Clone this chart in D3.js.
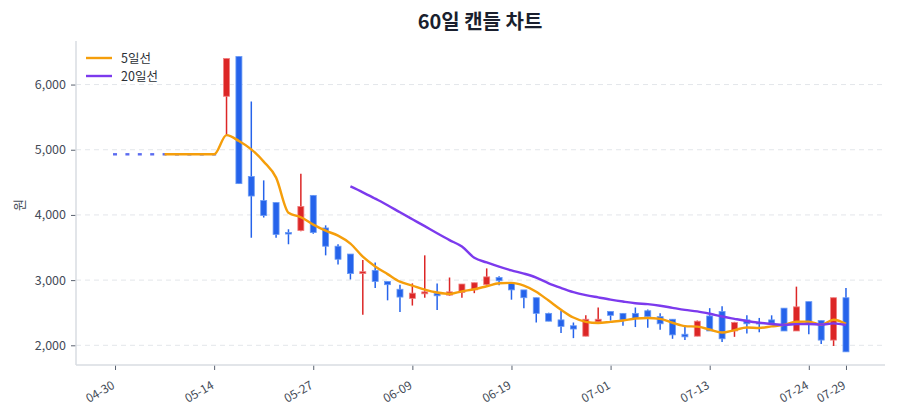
<!DOCTYPE html>
<html>
<head>
<meta charset="utf-8">
<script src="https://cdn.jsdelivr.net/npm/d3@7"></script>
<style>
  body { margin: 0; background: #fff; }
  text { font-family: "Noto Sans CJK KR", "Noto Sans", sans-serif; }
</style>
</head>
<body>
<div id="chart"></div>
<script>
// 60 trading days
const dates = ["04-30","05-01","05-02","05-07","05-08","05-09","05-12","05-13","05-14","05-15",
  "05-16","05-19","05-20","05-21","05-22","05-23","05-27","05-28","05-29","05-30",
  "06-02","06-04","06-05","06-06","06-09","06-10","06-11","06-12","06-13","06-16",
  "06-17","06-18","06-19","06-20","06-23","06-24","06-25","06-26","06-27","06-30",
  "07-01","07-02","07-03","07-04","07-07","07-08","07-09","07-10","07-13","07-14",
  "07-15","07-16","07-17","07-18","07-21","07-22","07-24","07-25","07-28","07-29"];
const open = [4930,4930,4930,4930,4930,4930,4930,4930,4930,5820,
  6430,4590,4220,4190,3730,3760,4300,3800,3520,3400,
  3100,3150,2980,2860,2720,2790,2800,2770,2810,2850,
  2930,3040,2950,2850,2730,2490,2390,2300,2140,2360,
  2520,2490,2490,2530,2440,2400,2170,2140,2450,2520,
  2220,2390,2350,2390,2570,2220,2670,2380,2080,2730];
const high = [4930,4930,4930,4930,4930,4930,4930,4930,4930,6400,
  6430,5740,4530,4190,3780,4630,4300,3840,3550,3400,
  3310,3270,2980,2930,2950,3380,2950,3040,2940,2960,
  3180,3060,2950,2850,2730,2500,2530,2350,2460,2580,
  2520,2490,2580,2550,2490,2400,2310,2380,2570,2600,
  2360,2460,2420,2460,2570,2900,2670,2380,2730,2880];
const low = [4930,4930,4930,4930,4930,4930,4930,4930,4930,5220,
  4480,3650,3960,3650,3550,3750,3710,3380,3240,3010,
  2470,2880,2690,2510,2610,2730,2540,2760,2730,2800,
  2920,2920,2700,2570,2350,2370,2190,2110,2140,2360,
  2380,2300,2280,2270,2240,2100,2080,2140,2220,2050,
  2130,2180,2200,2340,2220,2220,2170,2020,1990,1900];
const close = [4930,4930,4930,4930,4930,4930,4930,4930,4930,6400,
  4480,4290,3990,3700,3710,4130,3730,3520,3320,3100,
  3130,2980,2930,2740,2800,2820,2760,2820,2940,2960,
  3050,2990,2850,2730,2490,2370,2290,2250,2400,2400,
  2460,2390,2410,2440,2330,2160,2130,2370,2220,2100,
  2350,2330,2330,2340,2220,2590,2340,2080,2730,1900];
const yTicks = [2000, 3000, 4000, 5000, 6000];
const xTickIdx = [0, 8, 16, 24, 32, 40, 48, 56, 59];
const maSpecs = [
  {name: "5일선", n: 5, color: "#f59e0b"},
  {name: "20일선", n: 20, color: "#7c3aed"}
];

const width = 900, height = 420;
const m = {l: 76, r: 15, t: 41, b: 55};
const upColor = "#dc2626", downColor = "#2563eb";

const svg = d3.select("#chart").append("svg")
  .attr("width", width).attr("height", height)
  .style("background", "#fff");

const x = d3.scaleLinear().domain([-3.15, 62.15]).range([m.l, width - m.r]);
const y = d3.scaleLinear().domain([1698, 6668]).range([height - m.b, m.t]);

// title
svg.append("text")
  .attr("x", 480).attr("y", 29)
  .attr("text-anchor", "middle")
  .style("font-size", "20px").style("font-weight", "bold")
  .style("fill", "#1a1f2e")
  .text("60일 캔들 차트");

// grid
svg.append("g").selectAll("line").data(yTicks).join("line")
  .attr("x1", m.l).attr("x2", width - m.r)
  .attr("y1", d => y(d)).attr("y2", d => y(d))
  .style("stroke", "#e3e6ea").style("stroke-dasharray", "5,4");

// y axis
const yAxis = svg.append("g")
  .attr("transform", `translate(${m.l},0)`)
  .call(d3.axisLeft(y).tickValues(yTicks).tickSize(5).tickPadding(5).tickFormat(d3.format(",")));
yAxis.select(".domain").remove();
yAxis.selectAll(".tick line").style("stroke", "#5a6270");
yAxis.selectAll("text").style("font-size", "12.5px").style("fill", "#444b57");

// x axis
const xAxis = svg.append("g")
  .attr("transform", `translate(0,${height - m.b})`)
  .call(d3.axisBottom(x).tickValues(xTickIdx).tickSize(5).tickFormat(i => dates[i]));
xAxis.select(".domain").remove();
xAxis.selectAll(".tick line").style("stroke", "#5a6270");
xAxis.selectAll("text")
  .style("font-size", "12px").style("fill", "#444b57")
  .attr("text-anchor", "end")
  .attr("dy", "0.35em")
  .attr("transform", "translate(-2,19) rotate(-30)")
  .attr("y", 0);

// axis lines
svg.append("line")
  .attr("x1", m.l).attr("x2", m.l).attr("y1", m.t).attr("y2", height - m.b)
  .style("stroke", "#d8dce2").style("stroke-width", 1.5);
svg.append("line")
  .attr("x1", m.l).attr("x2", width - m.r).attr("y1", height - m.b).attr("y2", height - m.b)
  .style("stroke", "#d8dce2").style("stroke-width", 1.5);

// y title
svg.append("text")
  .attr("transform", "translate(24,205) rotate(-90)")
  .attr("text-anchor", "middle")
  .style("font-size", "13px").style("fill", "#444b57")
  .text("원");

// candles
const candles = d3.range(dates.length).map(i => ({
  i: i, o: open[i], h: high[i], l: low[i], c: close[i],
  up: close[i] > open[i]
}));

const cg = svg.append("g");
cg.selectAll("line").data(candles.filter(d => d.h > d.l)).join("line")
  .attr("x1", d => x(d.i)).attr("x2", d => x(d.i))
  .attr("y1", d => y(d.h)).attr("y2", d => y(d.l))
  .style("stroke", d => d.up ? upColor : downColor)
  .style("stroke-width", 1.5);

cg.selectAll("rect").data(candles).join("rect")
  .attr("x", d => d.o === d.c ? x(d.i) - 2 : x(d.i) - 3)
  .attr("width", d => d.o === d.c ? 4 : 6)
  .attr("y", d => d.o === d.c ? y(d.o) - 1.2 : y(Math.max(d.o, d.c)))
  .attr("height", d => d.o === d.c ? 2.4 : Math.max(1.5, y(Math.min(d.o, d.c)) - y(Math.max(d.o, d.c))))
  .style("fill", d => d.up ? upColor : (d.o === d.c ? "#5b6cf0" : downColor))
  .style("stroke", d => d.up ? "#f08080" : "#6b9bf5")
  .style("stroke-width", d => d.o === d.c ? 0 : 0.8);

// moving averages
const line = d3.line().x(d => x(d[0])).y(d => y(d[1])).curve(d3.curveMonotoneX);
maSpecs.forEach(s => {
  const pts = [];
  for (let i = s.n - 1; i < close.length; i++) {
    pts.push([i, d3.mean(close.slice(i - s.n + 1, i + 1))]);
  }
  svg.append("path")
    .attr("d", line(pts))
    .style("fill", "none")
    .style("stroke", s.color)
    .style("stroke-width", 2.4);
});

// legend
const lg = svg.append("g").attr("transform", "translate(86,58)");
maSpecs.forEach((s, k) => {
  lg.append("line")
    .attr("x1", 0).attr("x2", 26).attr("y1", k * 18).attr("y2", k * 18)
    .style("stroke", s.color).style("stroke-width", 2.4);
  lg.append("text")
    .attr("x", 35).attr("y", k * 18 + 4.5)
    .style("font-size", "12.5px").style("fill", "#2b2f36")
    .text(s.name);
});
</script>
</body>
</html>
